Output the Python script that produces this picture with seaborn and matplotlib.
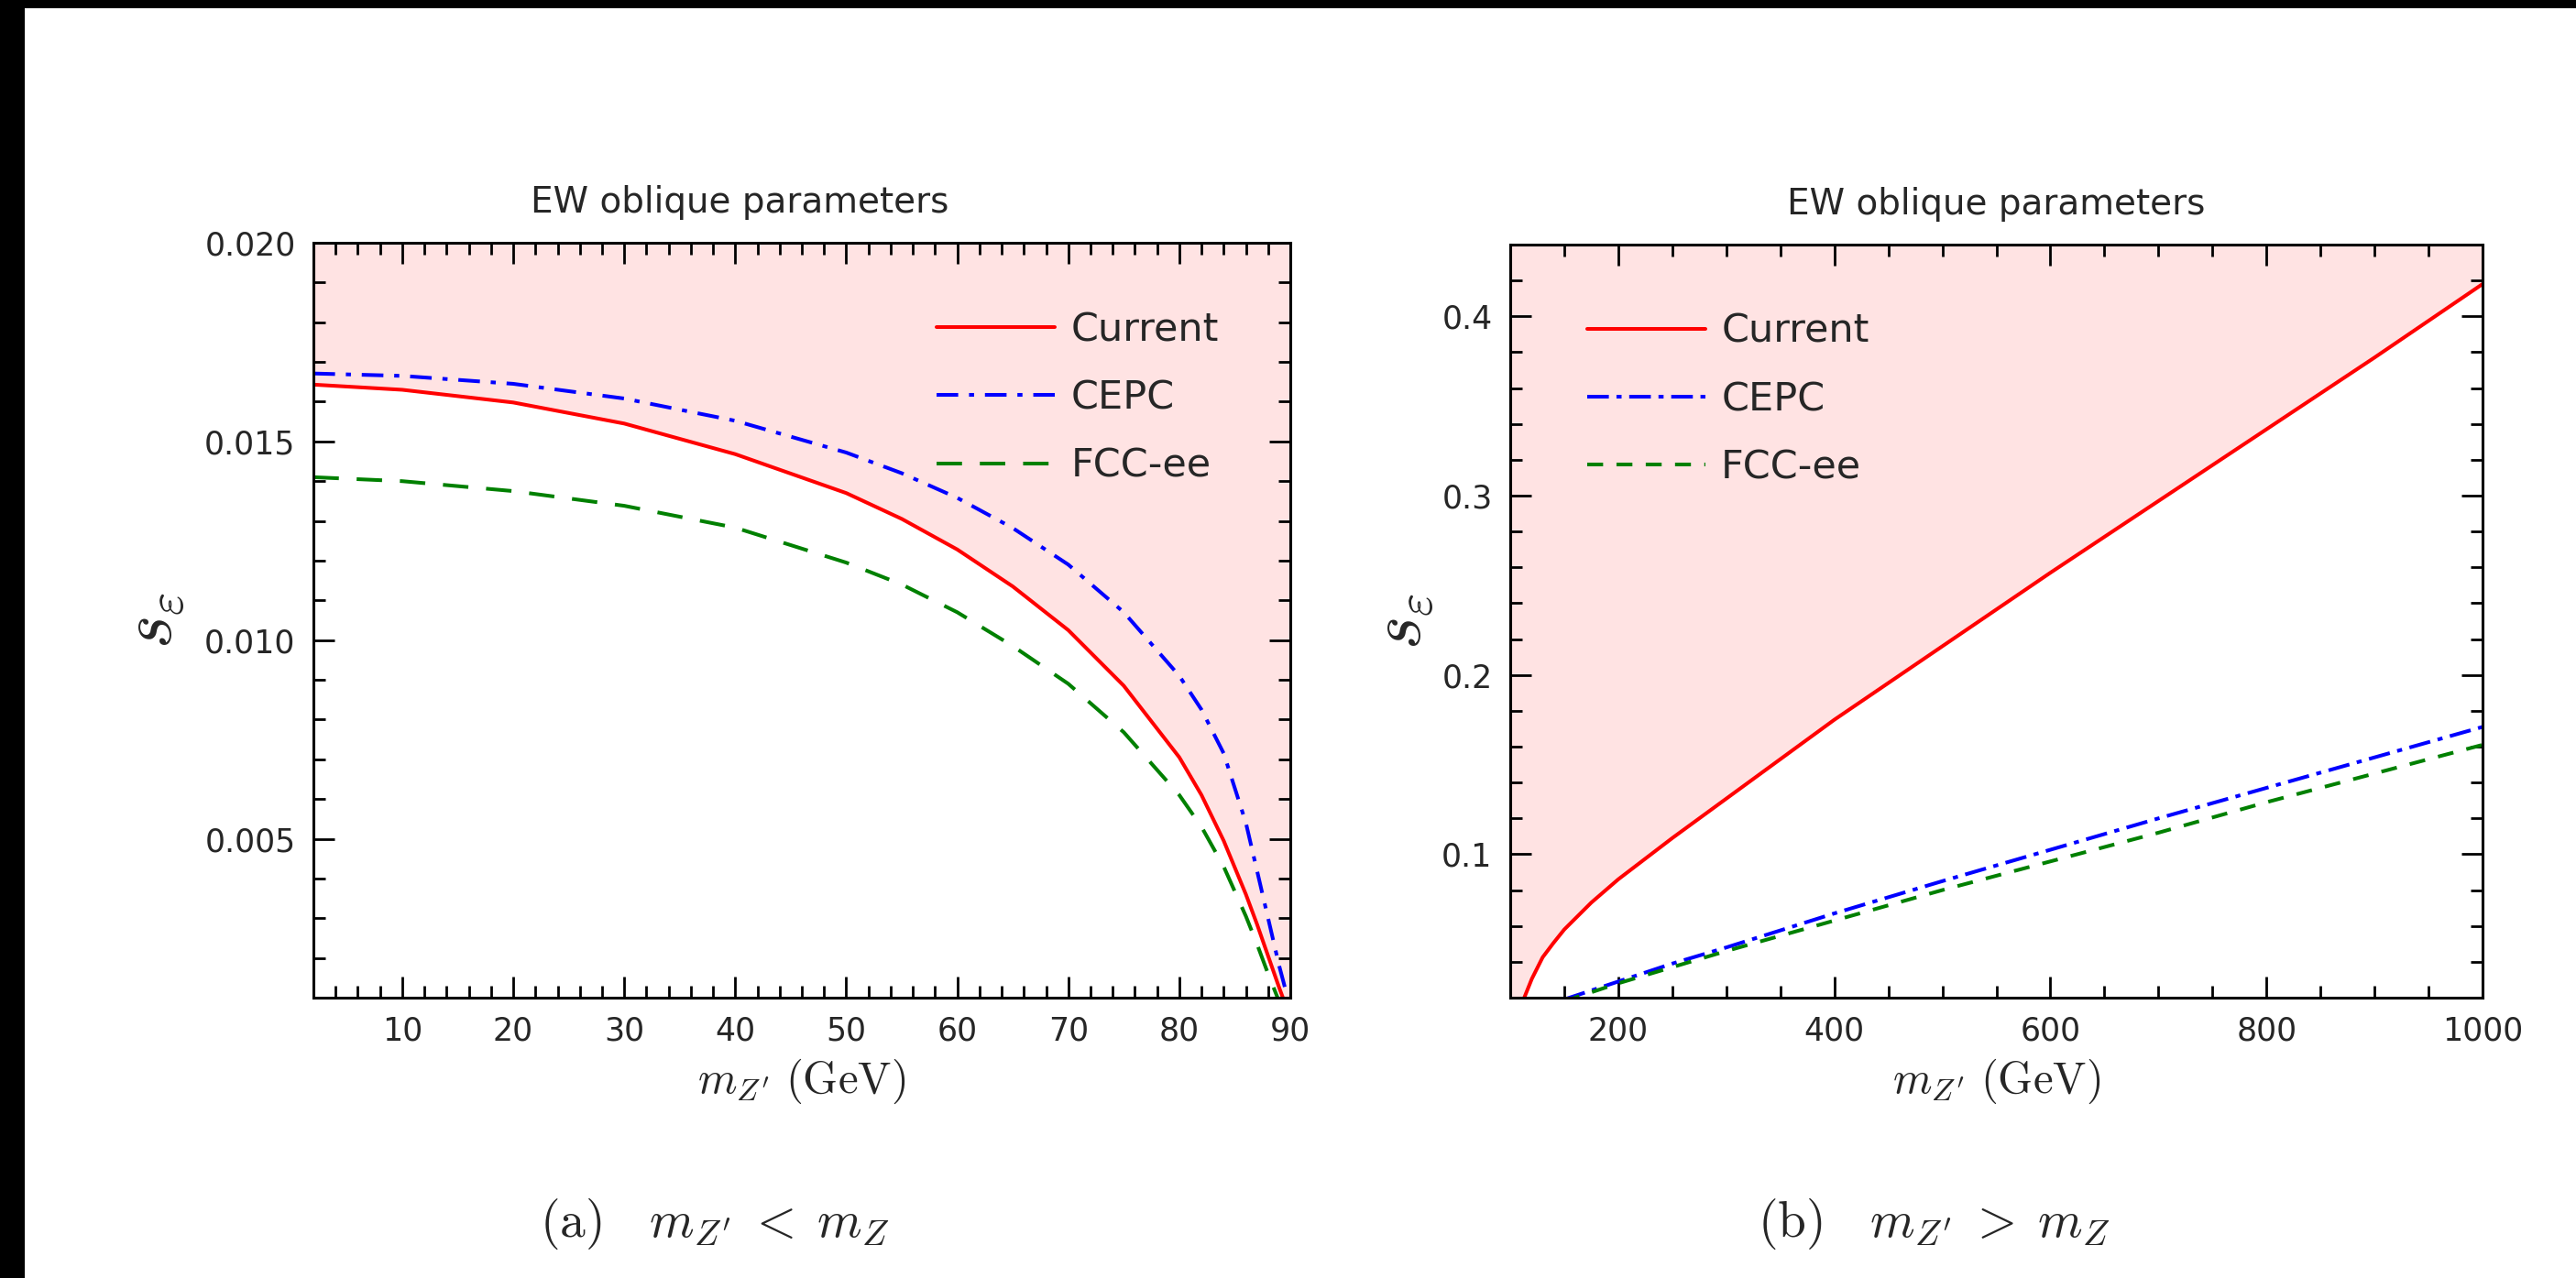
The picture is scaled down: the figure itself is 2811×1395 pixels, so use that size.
import matplotlib
matplotlib.use("Agg")
import matplotlib.pyplot as plt
import seaborn as sns
import pandas as pd
from matplotlib.patches import Rectangle

# ---------------- data ----------------
mz_low = [2, 10, 20, 30, 40, 50, 55, 60, 65, 70, 75, 80, 82, 84, 86, 87, 88, 89, 90, 91]
current_low = [0.01643, 0.01630, 0.01598, 0.01545, 0.01468, 0.01370, 0.01305, 0.01228,
               0.01135, 0.01025, 0.00885, 0.00705, 0.00610, 0.00495, 0.00360, 0.00285,
               0.00205, 0.00125, 0.00050, 0.0]
cepc_low = [0.01671, 0.01665, 0.01645, 0.01608, 0.01552, 0.01472, 0.01420, 0.01358,
            0.01282, 0.01190, 0.01070, 0.00910, 0.00825, 0.00715, 0.00540, 0.00420,
            0.00300, 0.00180, 0.00075, 0.0]
fcc_low = [0.01410, 0.01400, 0.01375, 0.01338, 0.01283, 0.01195, 0.01140, 0.01070,
           0.00985, 0.00890, 0.00768, 0.00610, 0.00530, 0.00430, 0.00305, 0.00235,
           0.00160, 0.00090, 0.00030, 0.0]

mz_cur_high = [100, 113, 120, 130, 140, 150, 175, 200, 250, 300, 350, 400, 500, 600,
               700, 800, 900, 1000]
current_high = [0.0, 0.020, 0.0305, 0.0425, 0.0505, 0.0580, 0.0730, 0.0860, 0.1090,
                0.1310, 0.1530, 0.1750, 0.2160, 0.2570, 0.2970, 0.3370, 0.3770, 0.4180]
mz_fut_high = [150, 200, 250, 300, 400, 500, 600, 700, 800, 900, 1000]
cepc_high = [0.019, 0.029, 0.039, 0.048, 0.067, 0.085, 0.1025, 0.120, 0.137, 0.154, 0.171]
fcc_high = [0.018, 0.028, 0.037, 0.046, 0.063, 0.080, 0.096, 0.112, 0.129, 0.145, 0.161]

series_names = ["Current", "CEPC", "FCC-ee"]
title_text = "EW oblique parameters"
xlabel_text = r"$m_{Z'}\ (\mathrm{GeV})$"
ylabel_text = r"$s_\varepsilon$"
captions = [r"$(\mathrm{a})\quad m_{Z'}\;<\;m_Z$", r"$(\mathrm{b})\quad m_{Z'}\;>\;m_Z$"]

# ---------------- style ----------------
sns.set_style("ticks")
plt.rcParams["font.family"] = ["DejaVu Sans"]
plt.rcParams["mathtext.fontset"] = "cm"
plt.rcParams["lines.scale_dashes"] = False

W, H = 2811, 1395
fig = plt.figure(figsize=(W / 100, H / 100), dpi=100)
fig.patch.set_facecolor("white")

# black scan border (top and left)
fig.add_artist(Rectangle((0, 1 - 9 / H), 1, 9 / H, transform=fig.transFigure,
                         color="black", lw=0))
fig.add_artist(Rectangle((0, 0), 27 / W, 1, transform=fig.transFigure,
                         color="black", lw=0))

ax1 = fig.add_axes([342 / W, 1 - 1089 / H, (1408 - 342) / W, (1089 - 265) / H])
ax2 = fig.add_axes([1648 / W, 1 - 1089 / H, (2709 - 1648) / W, (1089 - 267) / H])

RED, BLUE, GREEN = "#ff0000", "#0000ff", "#008000"
LW = 2.9


def draw(ax, xc, yc, xf, yb, yg, blue_dash, green_dash):
    df_c = pd.DataFrame({"m": xc, "s": yc})
    df_b = pd.DataFrame({"m": xf, "s": yb})
    df_g = pd.DataFrame({"m": xf, "s": yg})
    sns.lineplot(data=df_c, x="m", y="s", ax=ax, color=RED, lw=LW,
                 label=series_names[0], sort=False, estimator=None)
    sns.lineplot(data=df_b, x="m", y="s", ax=ax, color=BLUE, lw=LW,
                 label=series_names[1], sort=False, estimator=None)
    ax.lines[-1].set_dashes(blue_dash)
    sns.lineplot(data=df_g, x="m", y="s", ax=ax, color=GREEN, lw=LW,
                 label=series_names[2], sort=False, estimator=None)
    ax.lines[-1].set_dashes(green_dash)
    ax.fill_between(xc, yc, 1.0, color=RED, alpha=0.11, lw=0, zorder=0)


draw(ax1, mz_low, current_low, mz_low, cepc_low, fcc_low,
     (17, 8.5, 4, 8.5), (20, 14))
draw(ax2, mz_cur_high, current_high, mz_fut_high, cepc_high, fcc_high,
     (17, 6, 4, 6), (12.5, 10.5))

ax1.set_xlim(2, 90)
ax1.set_ylim(0.001, 0.020)
ax1.set_xticks([10, 20, 30, 40, 50, 60, 70, 80, 90])
ax1.set_xticks([x for x in range(4, 90, 2) if x % 10], minor=True)
ax1.set_yticks([0.005, 0.010, 0.015, 0.020])
ax1.set_yticklabels(["0.005", "0.010", "0.015", "0.020"])
ax1.set_yticks([v / 1000 for v in range(2, 20) if v % 5], minor=True)

ax2.set_xlim(100, 1000)
ax2.set_ylim(0.02, 0.44)
ax2.set_xticks([200, 400, 600, 800, 1000])
ax2.set_xticks([x for x in range(150, 1000, 50) if x % 200], minor=True)
ax2.set_yticks([0.1, 0.2, 0.3, 0.4])
ax2.set_yticks([0.04, 0.06, 0.08, 0.12, 0.14, 0.16, 0.18, 0.22, 0.24, 0.26, 0.28,
                0.32, 0.34, 0.36, 0.38, 0.42], minor=True)

for ax, ylx, legx, tx in [(ax1, -0.130, 0.638, 0.436), (ax2, -0.077, 0.079, 0.5)]:
    for sp in ax.spines.values():
        sp.set_linewidth(2.2)
        sp.set_color("black")
    ax.tick_params(which="both", direction="in", top=True, right=True,
                   width=2.0, color="black")
    ax.tick_params(which="major", length=16.5, labelsize=25, pad=14)
    ax.tick_params(which="minor", length=9.5)
    ax.set_title(title_text, fontsize=28, pad=24, x=tx)
    ax.set_xlabel(xlabel_text, fontsize=35, labelpad=8)
    ax.set_ylabel(ylabel_text, fontsize=56, rotation=90)
    ax.yaxis.set_label_coords(ylx, 0.5)
    ax.legend(loc="upper left", bbox_to_anchor=(legx, 0.91), frameon=False,
              fontsize=31, handlelength=3.0, handletextpad=0.4,
              labelspacing=0.75, borderpad=0, borderaxespad=0)
    ax.set_facecolor("white")

fig.text(780 / W, 1 - 1336 / H, captions[0], fontsize=40, ha="center", va="center")
fig.text(2110 / W, 1 - 1336 / H, captions[1], fontsize=40, ha="center", va="center")

fig.savefig("out.png", dpi=100, facecolor="white")
